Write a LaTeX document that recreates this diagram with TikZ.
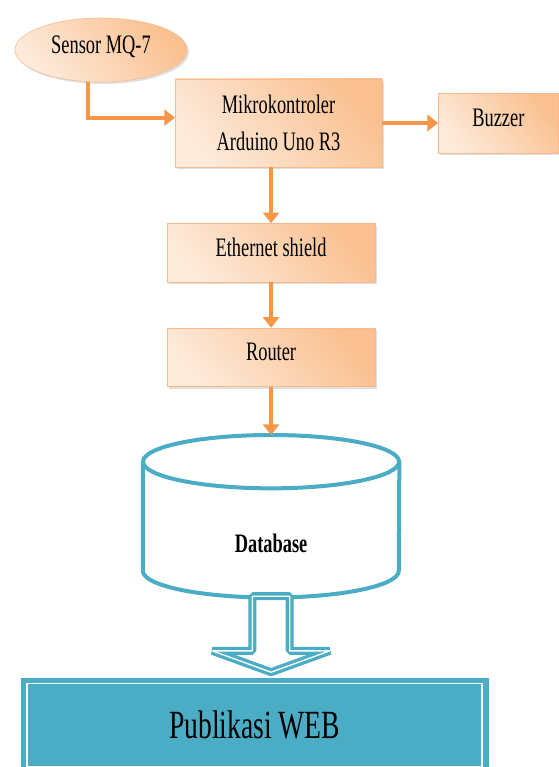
\documentclass[tikz,border=0pt]{standalone}
\usepackage{fontspec}
\setmainfont{Liberation Serif}[FakeStretch=0.69]
\usetikzlibrary{arrows.meta, positioning, shapes.geometric, shadows}
\definecolor{peachL}{HTML}{FDEADA}
\definecolor{peachD}{HTML}{FAC090}
\definecolor{peachE}{HTML}{F9B98B}
\definecolor{orangeA}{HTML}{F79646}
\definecolor{tealA}{HTML}{4BACC6}
\tikzset{
>={Triangle[width=12pt,length=8pt]}, % bold arrow heads
flow/.style={->, draw=orangeA, line width=3pt}, % orange connectors
block/.style={rectangle, draw=peachE, top color=peachD, bottom color=peachL, shading angle=-50,
  drop shadow={shadow xshift=1.5pt, shadow yshift=-1.5pt, opacity=0.25},
  minimum width=156pt, minimum height=44pt, align=center,
  font=\fontsize{20}{28}\selectfont, text height=14pt, text depth=9pt},
sensorshape/.style={block, ellipse, minimum width=129pt, minimum height=48pt},
dbshape/.style={rectangle, minimum width=192pt, minimum height=121.5pt, inner sep=0pt},
dbline/.style={draw=tealA, line width=3pt},
webbox/.style={rectangle, fill=tealA, draw=tealA, minimum width=350pt, minimum height=71pt,
  font=\fontsize{30}{36}\selectfont},
hollow/.style={draw=tealA, line width=2.5pt, double=white, double distance=1pt, fill=white,
  line join=bevel},
}

\begin{document}
\begin{tikzpicture}
  \useasboundingbox (0,0) rectangle (418.5pt,-575.25pt);
  \node[sensorshape] (sensor) at (75.75pt,-37.5pt) {Sensor MQ-7};
  \node[block, minimum width=155pt, minimum height=66pt, text height=, text depth=] (mikro) at (208.9pt,-92.25pt) {Mikrokontroler\\Arduino Uno R3};
  \node[block, minimum width=90pt, minimum height=45pt, right=42pt of mikro] (buzzer) {Buzzer};
  \node[block, below=42pt of mikro, xshift=-5.6pt] (eth) {Ethernet shield};
  \node[block, below=34pt of eth] (router) {Router};
  \node[dbshape, below=36pt of router, label={[font=\fontsize{20}{24}\selectfont\bfseries, yshift=-20pt]center:Database}] (db) {};
  % cylinder outline
  \draw[dbline] ([yshift=-20pt]db.north) ellipse [x radius=96pt, y radius=20pt];
  \draw[dbline] ([yshift=-20pt]db.north west) -- ([yshift=20pt]db.south west)
    arc[start angle=180, end angle=360, x radius=96pt, y radius=20pt] -- ([yshift=-20pt]db.north east);
  \node[webbox, below=60pt of db, xshift=-12.4pt] (web) {Publikasi WEB};
  \draw[white, line width=1pt] ([shift={(4.5pt,-4.5pt)}]web.north west) rectangle ([shift={(-4.5pt,4.5pt)}]web.south east);

  \draw[flow] ([xshift=-10pt]sensor.south) |- ([yshift=4pt]mikro.west);
  \draw[flow] (mikro) -- (buzzer);
  \draw[flow] (mikro.south -| eth) -- (eth);
  \draw[flow] (eth) -- (router);
  \draw[flow] (router) -- (db);
  \draw[hollow] ([xshift=-14pt,yshift=1pt]db.south) -- ++(0,-41pt) -- ++(-30pt,0) -- ++(44pt,-16pt)
    -- ++(44pt,16pt) -- ++(-30pt,0) -- ++(0,41pt) -- cycle;
\end{tikzpicture}
\end{document}
